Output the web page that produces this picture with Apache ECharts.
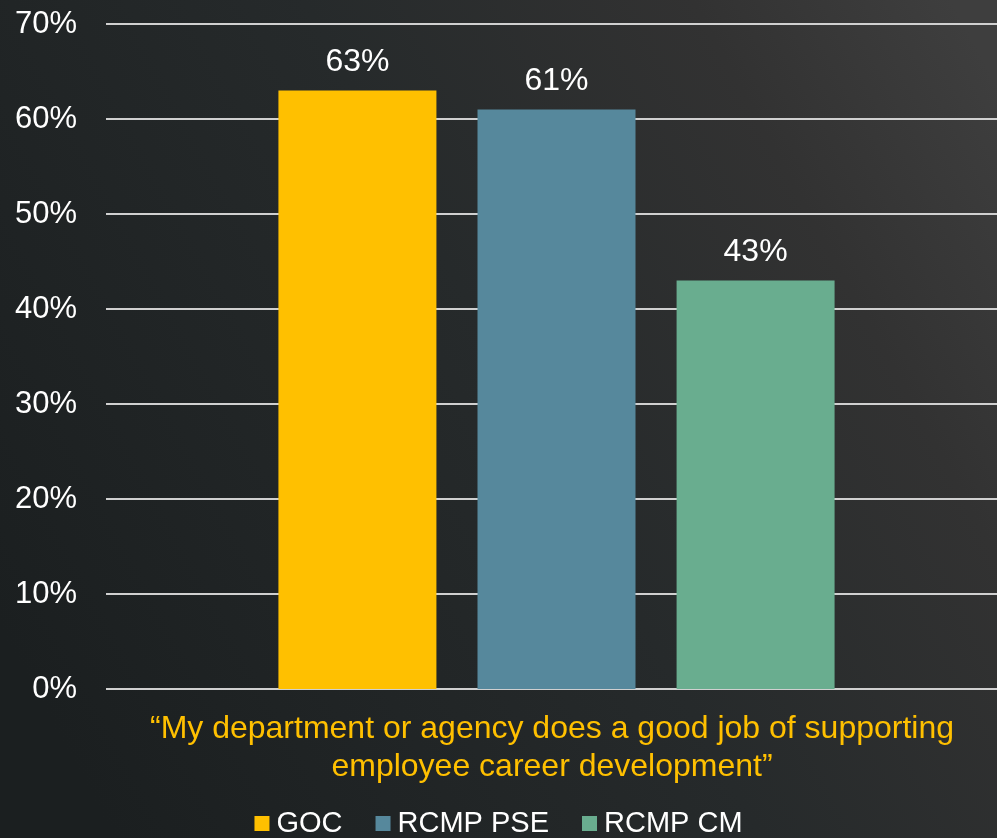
<!DOCTYPE html>
<html>
<head>
<meta charset="utf-8">
<script src="https://cdn.jsdelivr.net/npm/echarts@6/dist/echarts.min.js"></script>
<style>
html,body{margin:0;padding:0;background:#222;}
#c{width:997px;height:838px;}
</style>
</head>
<body>
<div id="c"></div>
<script>
const categories = ['\u201cMy department or agency does a good job of supporting\nemployee career development\u201d'];
const seriesNames = ['GOC', 'RCMP PSE', 'RCMP CM'];
const gocValues = [63];
const pseValues = [61];
const cmValues = [43];
const seriesColors = ['#FFC000', '#56889C', '#69AD8F'];
const yTicks = [0, 10, 20, 30, 40, 50, 60, 70];

const font = '"Liberation Sans", Arial, sans-serif';
const chart = echarts.init(document.getElementById('c'), null, {renderer: 'canvas'});
const values = [gocValues, pseValues, cmValues];
const yMin = yTicks[0], yMax = yTicks[yTicks.length - 1];

chart.setOption({
  backgroundColor: {
    type: 'linear', x: 0, y: 0.75, x2: 1, y2: 0.1,
    colorStops: [
      {offset: 0, color: '#1b1f20'},
      {offset: 0.5, color: '#262a2b'},
      {offset: 0.8, color: '#323232'},
      {offset: 1, color: '#3e3e3e'}
    ]
  },
  animation: false,
  textStyle: {fontFamily: font},
  grid: [
    {left: 106, right: 0, top: 24, height: 665, containLabel: false},
    {left: 116, right: 0, top: 24, height: 665, containLabel: false}
  ],
  legend: {
    data: seriesNames,
    bottom: -5,
    left: 'center',
    itemWidth: 15,
    itemHeight: 15,
    itemGap: 33,
    icon: 'rect',
    textStyle: {color: '#ffffff', fontSize: 29, fontFamily: font, padding: [0, 0, 0, 2]}
  },
  xAxis: [
    {type: 'value', gridIndex: 0, show: false, min: 0, max: 1},
    {
      type: 'category',
      gridIndex: 1,
      data: categories,
      axisLine: {show: false},
      axisTick: {show: false},
      axisLabel: {
        color: '#FFC000', fontSize: 32, lineHeight: 38, margin: 21,
        fontFamily: font, interval: 0, padding: [0, 9, 0, 0]
      }
    }
  ],
  yAxis: [
    {
      type: 'value',
      gridIndex: 0,
      min: yMin, max: yMax, interval: 10,
      axisLine: {show: false},
      axisTick: {show: false},
      axisLabel: {
        color: '#ffffff', fontSize: 31, margin: 29, fontFamily: font,
        formatter: v => v + '%'
      },
      splitLine: {lineStyle: {color: '#d0d0d0', width: 2}}
    },
    {
      type: 'value',
      gridIndex: 1,
      min: yMin, max: yMax, interval: 10,
      show: false,
      splitLine: {show: false}
    }
  ],
  series: seriesNames.map((n, i) => ({
    name: n,
    type: 'bar',
    xAxisIndex: 1,
    yAxisIndex: 1,
    data: values[i],
    barWidth: 158,
    barGap: '26%',
    itemStyle: {color: seriesColors[i]},
    label: {
      show: true, position: 'top', distance: 12,
      color: '#ffffff', fontSize: 32, fontFamily: font,
      formatter: p => p.value + '%'
    }
  }))
});
</script>
</body>
</html>
